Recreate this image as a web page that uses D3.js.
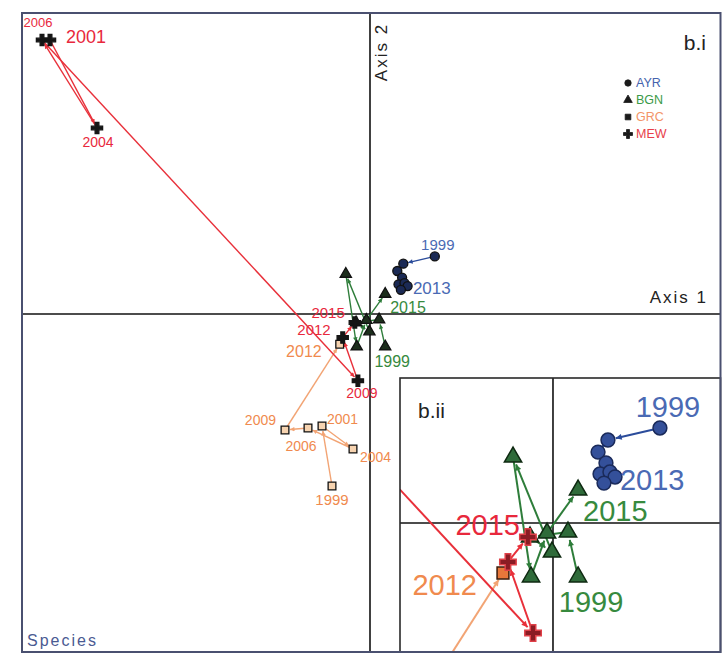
<!DOCTYPE html>
<html>
<head>
<meta charset="utf-8">
<script src="https://cdn.jsdelivr.net/npm/d3@7"></script>
<style>
  body { margin: 0; background: #ffffff; }
  text { font-family: "Liberation Sans", Arial, sans-serif; }
</style>
</head>
<body>
<svg id="chart" width="723" height="655"></svg>
<script>
// Ordination scores (Axis 1, Axis 2) of each site across survey years
const sites = ["AYR", "BGN", "GRC", "MEW"];

const ayrYears = [1999, 2001, 2003, 2005, 2007, 2009, 2011, 2013];
const ayrAxis1 = [0.648, 0.333, 0.273, 0.321, 0.285, 0.345, 0.376, 0.309];
const ayrAxis2 = [0.576, 0.503, 0.430, 0.364, 0.297, 0.309, 0.279, 0.242];

const bgnYears = [1999, 2001, 2003, 2005, 2007, 2009, 2012, 2015];
const bgnAxis1 = [0.152, 0.091, -0.139, -0.006, -0.242, -0.133, -0.036, 0.152];
const bgnAxis2 = [-0.327, -0.055, -0.085, -0.176, 0.400, -0.327, -0.061, 0.200];

const grcYears = [1999, 2001, 2004, 2006, 2009, 2012];
const grcAxis1 = [-0.38, -0.48, -0.17, -0.62, -0.85, -0.303];
const grcAxis2 = [-1.72, -1.12, -1.35, -1.14, -1.16, -0.303];

const mewYears = [2001, 2004, 2006, 2009, 2012, 2015];
const mewAxis1 = [-3.20, -2.73, -3.28, -0.121, -0.273, -0.152];
const mewAxis2 = [2.74, 1.86, 2.74, -0.667, -0.236, -0.085];

// Years labelled in each panel
const mainLabelYears = {
  AYR: [1999, 2013], BGN: [1999, 2015],
  GRC: [1999, 2001, 2004, 2006, 2009, 2012], MEW: [2001, 2004, 2006, 2009, 2012, 2015]
};
const insetLabelYears = { AYR: [1999, 2013], BGN: [1999, 2015], GRC: [2012], MEW: [2015] };

const panelTitles = ["b.i", "b.ii"];
const axisTitles = ["Axis 1", "Axis 2"];
const cornerTitle = "Species";

// ---------- build series ----------
function makeSeries(name, years, a1, a2) {
  return { name, points: years.map((y, i) => ({ year: y, a1: a1[i], a2: a2[i] })) };
}
const series = [
  makeSeries("AYR", ayrYears, ayrAxis1, ayrAxis2),
  makeSeries("BGN", bgnYears, bgnAxis1, bgnAxis2),
  makeSeries("GRC", grcYears, grcAxis1, grcAxis2),
  makeSeries("MEW", mewYears, mewAxis1, mewAxis2)
];

const style = {
  AYR: { line: "#2b4c9b", label: "#4a6ab4", symbol: d3.symbolCircle,
         mainFill: "#1b2a55", mainStroke: "#111111", inFill: "#34509a", inStroke: "#1a2a5a",
         mainSize: 64, inSize: 150, legend: "#4563ad" },
  BGN: { line: "#2e7d3a", label: "#378a3e", symbol: d3.symbolTriangle,
         mainFill: "#1c2e1c", mainStroke: "#111111", inFill: "#2f6b3a", inStroke: "#0f2a12",
         mainSize: 55, inSize: 130, legend: "#3b9a48" },
  GRC: { line: "#f2a474", label: "#f08a4e", symbol: d3.symbolSquare,
         mainFill: "#f6d3b0", mainStroke: "#111111", inFill: "#e8773a", inStroke: "#3a1a0a",
         mainSize: 60, inSize: 140, legend: "#f39468" },
  MEW: { line: "#e8303a", label: "#e8283c", symbol: d3.symbolCross,
         mainFill: "#151515", mainStroke: "#151515", inFill: "#8a1c24", inStroke: "#e04048",
         mainSize: 70, inSize: 150, legend: "#e8404a" }
};

// ---------- layout ----------
const frame = { left: 22, right: 720.5, top: 13, bottom: 652 };
const inset = { left: 400, right: 720.5, top: 378, bottom: 652 };

const svg = d3.select("#chart");

const xMain = d3.scaleLinear().domain([-3.48, 3.505]).range([frame.left, frame.right]);
const yMain = d3.scaleLinear().domain([-3.38, 3.01]).range([frame.bottom, frame.top]);

const xIn = d3.scaleLinear().domain([-0.927, 1.015]).range([inset.left, inset.right]);
const yIn = d3.scaleLinear().domain([-0.782, 0.879]).range([inset.bottom, inset.top]);

// label offsets (px) relative to the labelled mark
const mainLabelPos = {
  "MEW-2006": { dx: -4, dy: -18, size: 13, anchor: "middle" },
  "MEW-2001": { dx: 16, dy: -3, size: 18, anchor: "start" },
  "MEW-2004": { dx: 1, dy: 14, size: 14, anchor: "middle" },
  "MEW-2009": { dx: 4, dy: 12, size: 14, anchor: "middle" },
  "MEW-2015": { dx: -10, dy: -10, size: 15, anchor: "end" },
  "MEW-2012": { dx: -12, dy: -8, size: 15, anchor: "end" },
  "GRC-2012": { dx: -18, dy: 7, size: 16, anchor: "end" },
  "GRC-1999": { dx: 0, dy: 13, size: 15, anchor: "middle" },
  "GRC-2001": { dx: 5, dy: -7, size: 14, anchor: "start" },
  "GRC-2004": { dx: 7, dy: 8, size: 14, anchor: "start" },
  "GRC-2006": { dx: -7, dy: 18, size: 14, anchor: "middle" },
  "GRC-2009": { dx: -9, dy: -10, size: 14, anchor: "end" },
  "BGN-1999": { dx: 7, dy: 15, size: 16, anchor: "middle" },
  "BGN-2015": { dx: 5, dy: 13, size: 16, anchor: "start" },
  "AYR-1999": { dx: 3, dy: -12, size: 15, anchor: "middle" },
  "AYR-2013": { dx: 12, dy: -1, size: 17, anchor: "start" }
};
const insetLabelPos = {
  "AYR-1999": { dx: 8, dy: -21, size: 29, anchor: "middle" },
  "AYR-2013": { dx: 16, dy: -3, size: 29, anchor: "start" },
  "BGN-2015": { dx: 5, dy: 21, size: 29, anchor: "start" },
  "BGN-1999": { dx: 13, dy: 25, size: 29, anchor: "middle" },
  "MEW-2015": { dx: -8, dy: -12, size: 29, anchor: "end" },
  "GRC-2012": { dx: -26, dy: 12, size: 29, anchor: "end" }
};

// ---------- arrow markers ----------
const defs = svg.append("defs");
function arrowId(name, panel) { return `arrow-${name}-${panel}`; }
series.forEach(s => {
  [["main", 6], ["inset", 8]].forEach(([panel, len]) => {
    defs.append("marker")
      .attr("id", arrowId(s.name, panel))
      .attr("viewBox", "0 -5 10 10")
      .attr("refX", 10).attr("refY", 0)
      .attr("markerUnits", "userSpaceOnUse")
      .attr("markerWidth", len).attr("markerHeight", len * 0.75)
      .attr("orient", "auto")
      .append("path").attr("d", "M0,-5L10,0L0,5Z").attr("fill", style[s.name].line);
  });
});
defs.append("clipPath").attr("id", "inset-clip")
  .append("rect")
  .attr("x", inset.left).attr("y", inset.top)
  .attr("width", inset.right - inset.left).attr("height", inset.bottom - inset.top);

// ---------- panel drawing ----------
function drawPanel(g, x, y, panel, labelYears, labelPos, opts) {
  // axes through the origin
  g.append("line").attr("x1", x.range()[0]).attr("x2", x.range()[1])
    .attr("y1", y(0)).attr("y2", y(0)).attr("stroke", "#111").attr("stroke-width", opts.axisWidth);
  g.append("line").attr("y1", y.range()[0]).attr("y2", y.range()[1])
    .attr("x1", x(0)).attr("x2", x(0)).attr("stroke", "#111").attr("stroke-width", opts.axisWidth);

  // trajectories
  series.forEach(s => {
    const st = style[s.name];
    const pts = s.points;
    for (let i = 0; i < pts.length - 1; i++) {
      const x0 = x(pts[i].a1), y0 = y(pts[i].a2);
      const x1 = x(pts[i + 1].a1), y1 = y(pts[i + 1].a2);
      const len = Math.hypot(x1 - x0, y1 - y0);
      const gap = Math.min(opts.gap, len * 0.4);
      const ex = x1 - (x1 - x0) / len * gap, ey = y1 - (y1 - y0) / len * gap;
      g.append("line")
        .attr("x1", x0).attr("y1", y0).attr("x2", ex).attr("y2", ey)
        .attr("stroke", st.line).attr("stroke-width", opts.lineWidth)
        .attr("marker-end", `url(#${arrowId(s.name, panel)})`);
    }
  });

  // site/year markers
  series.forEach(s => {
    const st = style[s.name];
    g.selectAll(null).data(s.points).enter().append("path")
      .attr("d", d3.symbol().type(st.symbol).size(panel === "main" ? st.mainSize : st.inSize))
      .attr("transform", d => `translate(${x(d.a1)},${y(d.a2)})`)
      .attr("fill", panel === "main" ? st.mainFill : st.inFill)
      .attr("stroke", panel === "main" ? st.mainStroke : st.inStroke)
      .attr("stroke-width", opts.markerStroke);
  });

  // year labels
  series.forEach(s => {
    const st = style[s.name];
    const wanted = labelYears[s.name] || [];
    s.points.filter(p => wanted.includes(p.year)).forEach(p => {
      const lp = labelPos[`${s.name}-${p.year}`];
      g.append("text")
        .attr("x", x(p.a1) + lp.dx).attr("y", y(p.a2) + lp.dy)
        .attr("text-anchor", lp.anchor).attr("dominant-baseline", "central")
        .attr("font-size", lp.size).attr("fill", st.label)
        .text(p.year);
    });
  });
}

// main panel
const mainG = svg.append("g");
drawPanel(mainG, xMain, yMain, "main", mainLabelYears, mainLabelPos,
  { axisWidth: 1.6, lineWidth: 1.4, gap: 5, markerStroke: 1.3 });

// main panel annotations
mainG.append("text").attr("x", 706).attr("y", 42).attr("text-anchor", "end")
  .attr("dominant-baseline", "central").attr("font-size", 21).attr("fill", "#222")
  .text(panelTitles[0]);
mainG.append("text").attr("x", 708).attr("y", 297).attr("text-anchor", "end")
  .attr("dominant-baseline", "central").attr("font-size", 17).attr("letter-spacing", 2)
  .attr("fill", "#222").attr("font-family", "DejaVu Sans").text(axisTitles[0]);
mainG.append("text").attr("transform", "translate(381,52) rotate(-90)")
  .attr("text-anchor", "middle").attr("dominant-baseline", "central")
  .attr("font-size", 17).attr("letter-spacing", 2).attr("fill", "#222")
  .attr("font-family", "DejaVu Sans").text(axisTitles[1]);
mainG.append("text").attr("x", 27).attr("y", 640)
  .attr("dominant-baseline", "central").attr("font-size", 16).attr("letter-spacing", 2)
  .attr("fill", "#4a5a92").attr("font-family", "DejaVu Sans").text(cornerTitle);

// legend
const legend = mainG.append("g");
sites.forEach((name, i) => {
  const st = style[name];
  const ly = 83 + i * 17;
  legend.append("path")
    .attr("d", d3.symbol().type(st.symbol).size(name === "MEW" ? 45 : 32))
    .attr("transform", `translate(628,${ly})`)
    .attr("fill", "#1a1a1a").attr("stroke", "#1a1a1a").attr("stroke-width", 0.8);
  legend.append("text").attr("x", 636).attr("y", ly)
    .attr("dominant-baseline", "central").attr("font-size", 12.5)
    .attr("fill", st.legend).text(name);
});

// inset panel (magnified centre)
svg.append("rect")
  .attr("x", inset.left).attr("y", inset.top)
  .attr("width", inset.right - inset.left).attr("height", inset.bottom - inset.top)
  .attr("fill", "#ffffff");
const insetG = svg.append("g").attr("clip-path", "url(#inset-clip)");
drawPanel(insetG, xIn, yIn, "inset", insetLabelYears, insetLabelPos,
  { axisWidth: 1.6, lineWidth: 2, gap: 8, markerStroke: 1.5 });
insetG.append("text").attr("x", 418).attr("y", 410)
  .attr("dominant-baseline", "central").attr("font-size", 21).attr("fill", "#222")
  .text(panelTitles[1]);
svg.append("rect")
  .attr("x", inset.left).attr("y", inset.top)
  .attr("width", inset.right - inset.left).attr("height", inset.bottom - inset.top)
  .attr("fill", "none").attr("stroke", "#2a2a2a").attr("stroke-width", 1.6);

// outer frame
svg.append("rect")
  .attr("x", frame.left).attr("y", frame.top)
  .attr("width", frame.right - frame.left).attr("height", frame.bottom - frame.top)
  .attr("fill", "none").attr("stroke", "#4a5070").attr("stroke-width", 2);
</script>
</body>
</html>
